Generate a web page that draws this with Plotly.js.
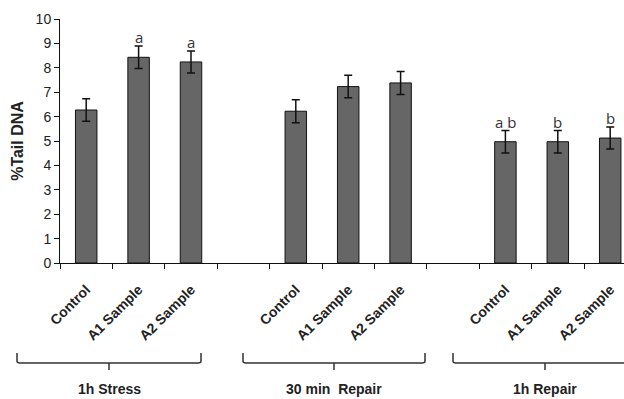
<!DOCTYPE html>
<html><head><meta charset="utf-8">
<script src="https://cdn.plot.ly/plotly-3.0.1.min.js"></script>
<style>html,body{margin:0;padding:0;overflow:hidden;background:#fff}#chart{width:624px;height:399px}</style>
</head><body><div id="chart"></div>
<script>
// ---- data ----
const categories = ["Control", "A1 Sample", "A2 Sample"];
const groups = ["1h Stress", "30 min  Repair", "1h Repair"];
const stressValues = [6.27, 8.43, 8.24];
const stressErrors = [0.46, 0.46, 0.45];
const repair30Values = [6.22, 7.23, 7.38];
const repair30Errors = [0.47, 0.46, 0.47];
const repair1hValues = [4.97, 4.97, 5.12];
const repair1hErrors = [0.46, 0.46, 0.45];
const stressLetters = ["", "a", "a"];
const repair30Letters = ["", "", ""];
const repair1hLetters = ["a b", "b", "b"];
const yTickValues = [0, 1, 2, 3, 4, 5, 6, 7, 8, 9, 10];

// ---- build ----
const groupValues = [stressValues, repair30Values, repair1hValues];
const groupErrors = [stressErrors, repair30Errors, repair1hErrors];
const groupLetters = [stressLetters, repair30Letters, repair1hLetters];
const slotsPerGroup = categories.length + 1;
const xs = [], ys = [], es = [], labels = [], letters = [];
groupValues.forEach((vals, g) => {
  vals.forEach((v, i) => {
    xs.push(g * slotsPerGroup + i);
    ys.push(v);
    es.push(groupErrors[g][i]);
    labels.push(categories[i]);
    letters.push(groupLetters[g][i]);
  });
});
const boundaries = [];
for (let b = -0.5; b <= groups.length * slotsPerGroup; b += 1) boundaries.push(b);

const M = {l: 60, r: 0, t: 19, b: 136};
const W = 624, H = 399;
const pw = W - M.l - M.r, ph = H - M.t - M.b;
const px = p => (p - M.l) / pw;
const py = p => (H - M.b - p) / ph;

const trace = {
  type: 'bar', x: xs, y: ys, width: 0.41,
  marker: {color: '#666666', line: {color: '#111', width: 1}},
  error_y: {type: 'data', array: es, visible: true, color: '#111', thickness: 1.5, width: 4},
  hoverinfo: 'skip'
};

const annotations = [];
xs.forEach((x, k) => {
  if (letters[k]) annotations.push({
    x: x, y: ys[k] + es[k], xref: 'x', yref: 'y', text: letters[k],
    showarrow: false, yanchor: 'bottom', yshift: -3,
    font: {family: 'Open Sans, Liberation Sans, sans-serif', size: 15, color: '#333'}
  });
});

// braces (pixel positions measured from layout)
const braceSpans = [[17, 201, 109], [243, 425, 334], [453, 637, 545]];
const shapes = [];
const lineY = 363, topY = 353, tickY = 370;
braceSpans.forEach(([a, b, c], g) => {
  const path = `M ${px(a)} ${py(topY)} L ${px(a)} ${py(lineY - 2)} Q ${px(a)} ${py(lineY)} ${px(a + 3)} ${py(lineY)} ` +
    `L ${px(b - 3)} ${py(lineY)} Q ${px(b)} ${py(lineY)} ${px(b)} ${py(lineY - 2)} L ${px(b)} ${py(topY)} ` +
    `M ${px(c)} ${py(lineY)} L ${px(c)} ${py(tickY)}`;
  shapes.push({type: 'path', xref: 'paper', yref: 'paper', path: path, line: {color: '#333', width: 1.5}});
  annotations.push({
    x: px(c), y: py(389), xref: 'paper', yref: 'paper', text: '<b>' + groups[g] + '</b>',
    showarrow: false, xanchor: 'center', yanchor: 'middle',
    font: {family: 'Liberation Sans, Arial, sans-serif', size: 14, color: '#222'}
  });
});

const layout = {
  width: W, height: H, margin: M,
  paper_bgcolor: '#fff', plot_bgcolor: '#fff',
  showlegend: false,
  font: {family: 'Liberation Sans, Arial, sans-serif', color: '#222'},
  xaxis: {
    range: [-0.5, -0.5 + pw / 52.4],
    tickmode: 'array', tickvals: xs, ticktext: labels.map(s => '<b>' + s + '</b>'),
    tickangle: -45, ticks: '', tickfont: {size: 14, color: '#222'}, ticklabelstandoff: 12,
    minor: {tickmode: 'array', tickvals: boundaries, ticks: 'outside', ticklen: 5, tickcolor: '#111', tickwidth: 1},
    showline: true, linecolor: '#111', linewidth: 1, showgrid: false, zeroline: false,
    fixedrange: true, automargin: false
  },
  yaxis: {
    range: [0, 10], tickmode: 'array', tickvals: yTickValues,
    ticks: 'outside', ticklen: 5, tickcolor: '#111', tickwidth: 1,
    tickfont: {size: 14, color: '#222'},
    showline: true, linecolor: '#111', linewidth: 1, showgrid: false, zeroline: false,
    title: {text: '<b>%Tail DNA</b>', font: {size: 16, color: '#222'}, standoff: 8},
    fixedrange: true, automargin: false
  },
  shapes: shapes,
  annotations: annotations
};

Plotly.newPlot('chart', [trace], layout, {staticPlot: true, displayModeBar: false});
</script>
</body></html>
